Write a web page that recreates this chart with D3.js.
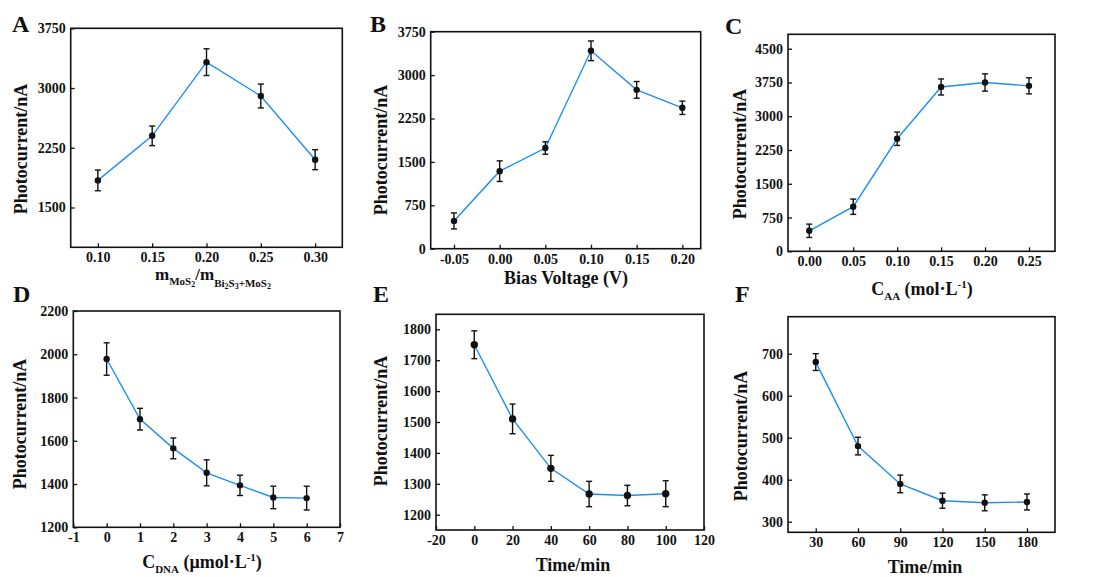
<!DOCTYPE html>
<html lang="en">
<head>
  <meta charset="UTF-8">
  <title>Photocurrent - condition optimisation</title>
  <script src="https://d3js.org/d3.v7.min.js"></script>
  <style>
    body { margin: 0; background: #fff; }
    text { font-family: "Liberation Serif", "Times New Roman", serif; font-weight: bold; fill: #111; }
    .tick text { font-size: 14px; }
    .tick line { stroke: #111; stroke-width: 1.3; }
  </style>
</head>
<body>
<script>
  // A - mass ratio of MoS2
  const ratioA = [0.10, 0.15, 0.20, 0.25, 0.30];
  const currentA = [1840, 2400, 3325, 2900, 2100];
  const errA = [130, 123, 168, 150, 125];

  // B - bias voltage
  const voltB = [-0.05, 0.00, 0.05, 0.10, 0.15, 0.20];
  const currentB = [480, 1340, 1740, 3420, 2745, 2435];
  const errB = [138, 178, 107, 170, 144, 115];

  // C - AA concentration
  const concC = [0.00, 0.05, 0.10, 0.15, 0.20, 0.25];
  const currentC = [455, 990, 2500, 3650, 3750, 3675];
  const errC = [148, 170, 148, 178, 192, 178];

  // D - DNA concentration
  const concD = [0, 1, 2, 3, 4, 5, 6];
  const currentD = [1978, 1700, 1565, 1452, 1394, 1338, 1335];
  const errD = [75, 50, 48, 60, 47, 52, 55];

  // E - time
  const timeE = [0, 20, 40, 60, 80, 100];
  const currentE = [1750, 1510, 1350, 1267, 1262, 1268];
  const errE = [45, 48, 42, 41, 33, 42];

  // F - time
  const timeF = [30, 60, 90, 120, 150, 180];
  const currentF = [680, 480, 390, 350, 345, 347];
  const errF = [20, 21, 21, 18, 19, 19];

  // tick labels
  const ticksXA = [0.10, 0.15, 0.20, 0.25, 0.30];
  const ticksYA = [1500, 2250, 3000, 3750];
  const ticksXB = [-0.05, 0.00, 0.05, 0.10, 0.15, 0.20];
  const ticksYB = [0, 750, 1500, 2250, 3000, 3750];
  const ticksXC = [0.00, 0.05, 0.10, 0.15, 0.20, 0.25];
  const ticksYC = [0, 750, 1500, 2250, 3000, 3750, 4500];
  const ticksXD = [-1, 0, 1, 2, 3, 4, 5, 6, 7];
  const ticksYD = [1200, 1400, 1600, 1800, 2000, 2200];
  const ticksXE = [-20, 0, 20, 40, 60, 80, 100, 120];
  const ticksYE = [1200, 1300, 1400, 1500, 1600, 1700, 1800];
  const ticksXF = [30, 60, 90, 120, 150, 180];
  const ticksYF = [300, 400, 500, 600, 700];

  const lineColor = "#1f8ef1";
  const fixed2 = d => d.toFixed(2);
  const plain = d => String(d);

  const svg = d3.select("body")
    .append("svg")
    .attr("width", 1094)
    .attr("height", 577);

  function drawPanel(p) {
    const [left, top, right, bottom] = p.box;
    const x = d3.scaleLinear().domain(p.xDomain).range([left, right]);
    const y = d3.scaleLinear().domain(p.yDomain).range([bottom, top]);
    const g = svg.append("g");

    // axes with inward ticks
    const xAxis = g.append("g")
      .attr("transform", "translate(0," + bottom + ")")
      .call(d3.axisBottom(x).tickValues(p.xTicks).tickFormat(p.xFmt)
        .tickSizeInner(-4).tickSizeOuter(0).tickPadding(5));
    const yAxis = g.append("g")
      .attr("transform", "translate(" + left + ",0)")
      .call(d3.axisLeft(y).tickValues(p.yTicks).tickFormat(plain)
        .tickSizeInner(-4).tickSizeOuter(0).tickPadding(5));
    [xAxis, yAxis].forEach(a => {
      a.select(".domain").remove();
      a.attr("font-size", null).attr("font-family", null);
    });

    // frame
    g.append("rect")
      .attr("x", left).attr("y", top)
      .attr("width", right - left).attr("height", bottom - top)
      .attr("fill", "none").attr("stroke", "#111").attr("stroke-width", 1.6);

    const pts = p.xs.map((v, i) => ({x: v, y: p.ys[i], e: p.errs[i]}));

    g.append("path")
      .datum(pts)
      .attr("fill", "none")
      .attr("stroke", lineColor)
      .attr("stroke-width", 1.4)
      .attr("d", d3.line().x(d => x(d.x)).y(d => y(d.y)));

    // error bars
    const bars = g.selectAll(".err").data(pts).enter().append("g")
      .attr("stroke", "#111").attr("stroke-width", 1.4);
    bars.append("line")
      .attr("x1", d => x(d.x)).attr("x2", d => x(d.x))
      .attr("y1", d => y(d.y - d.e)).attr("y2", d => y(d.y + d.e));
    bars.append("line")
      .attr("x1", d => x(d.x) - 3).attr("x2", d => x(d.x) + 3)
      .attr("y1", d => y(d.y + d.e)).attr("y2", d => y(d.y + d.e));
    bars.append("line")
      .attr("x1", d => x(d.x) - 3).attr("x2", d => x(d.x) + 3)
      .attr("y1", d => y(d.y - d.e)).attr("y2", d => y(d.y - d.e));

    g.selectAll(".dot").data(pts).enter().append("circle")
      .attr("cx", d => x(d.x)).attr("cy", d => y(d.y))
      .attr("r", p.r).attr("fill", "#111");

    // panel letter
    g.append("text")
      .attr("x", p.letterPos[0]).attr("y", p.letterPos[1])
      .attr("font-size", 24)
      .text(p.letter);

    // y title
    g.append("text")
      .attr("transform", "translate(" + p.yTitlePos[0] + "," + p.yTitlePos[1] + ") rotate(-90)")
      .attr("text-anchor", "middle")
      .attr("font-size", 18)
      .text("Photocurrent/nA");

    // x title, built from pieces (text, size, dy)
    const t = g.append("text")
      .attr("x", p.xTitlePos[0]).attr("y", p.xTitlePos[1])
      .attr("text-anchor", "middle");
    p.xTitle.forEach(part => {
      t.append("tspan")
        .attr("font-size", part[1])
        .attr("dy", part[2])
        .text(part[0]);
    });
  }

  drawPanel({
    letter: "A", letterPos: [12, 32],
    box: [70.7, 28.3, 342.3, 247.3],
    xDomain: [0.075, 0.325], yDomain: [1000, 3750],
    xTicks: ticksXA, yTicks: ticksYA, xFmt: fixed2,
    xs: ratioA, ys: currentA, errs: errA, r: 3.2,
    yTitlePos: [27, 149],
    xTitlePos: [213, 280],
    xTitle: [["m", 17, 0], ["MoS", 11, 5], ["2", 8, 2], ["/m", 17, -7],
      ["Bi", 11, 7], ["2", 8, 2], ["S", 11, -2], ["3", 8, 2], ["+MoS", 11, -2], ["2", 8, 2]]
  });

  drawPanel({
    letter: "B", letterPos: [370, 32],
    box: [430.7, 31.7, 700.7, 248.7],
    xDomain: [-0.0755, 0.2201], yDomain: [0, 3750],
    xTicks: ticksXB, yTicks: ticksYB, xFmt: fixed2,
    xs: voltB, ys: currentB, errs: errB, r: 3.2,
    yTitlePos: [387, 150],
    xTitlePos: [566, 284],
    xTitle: [["Bias Voltage (V)", 18, 0]]
  });

  drawPanel({
    letter: "C", letterPos: [725, 34],
    box: [788, 34.3, 1055, 251.3],
    xDomain: [-0.0242, 0.2796], yDomain: [0, 4820],
    xTicks: ticksXC, yTicks: ticksYC, xFmt: fixed2,
    xs: concC, ys: currentC, errs: errC, r: 3.2,
    yTitlePos: [746, 154],
    xTitlePos: [922, 295],
    xTitle: [["C", 18, 0], ["AA", 11, 5], [" (mol·L", 18, -5], ["-1", 11, -7], [")", 18, 7]]
  });

  drawPanel({
    letter: "D", letterPos: [13, 302],
    box: [73.3, 311, 340, 527.3],
    xDomain: [-1, 7], yDomain: [1200, 2200],
    xTicks: ticksXD, yTicks: ticksYD, xFmt: plain,
    xs: concD, ys: currentD, errs: errD, r: 3.2,
    yTitlePos: [26, 424],
    xTitlePos: [202, 568],
    xTitle: [["C", 18, 0], ["DNA", 11, 5], [" (μmol·L", 18, -5], ["-1", 11, -7], [")", 18, 7]]
  });

  drawPanel({
    letter: "E", letterPos: [373, 302],
    box: [436, 314.3, 704, 530],
    xDomain: [-20, 120], yDomain: [1150.5, 1848.5],
    xTicks: ticksXE, yTicks: ticksYE, xFmt: plain,
    xs: timeE, ys: currentE, errs: errE, r: 3.7,
    yTitlePos: [387, 421],
    xTitlePos: [573, 571],
    xTitle: [["Time/min", 18, 0]]
  });

  drawPanel({
    letter: "F", letterPos: [735, 302],
    box: [788, 316.7, 1055, 532.3],
    xDomain: [10.3, 199.9], yDomain: [274.8, 788],
    xTicks: ticksXF, yTicks: ticksYF, xFmt: plain,
    xs: timeF, ys: currentF, errs: errF, r: 3.2,
    yTitlePos: [747, 436],
    xTitlePos: [925, 573],
    xTitle: [["Time/min", 18, 0]]
  });
</script>
</body>
</html>
